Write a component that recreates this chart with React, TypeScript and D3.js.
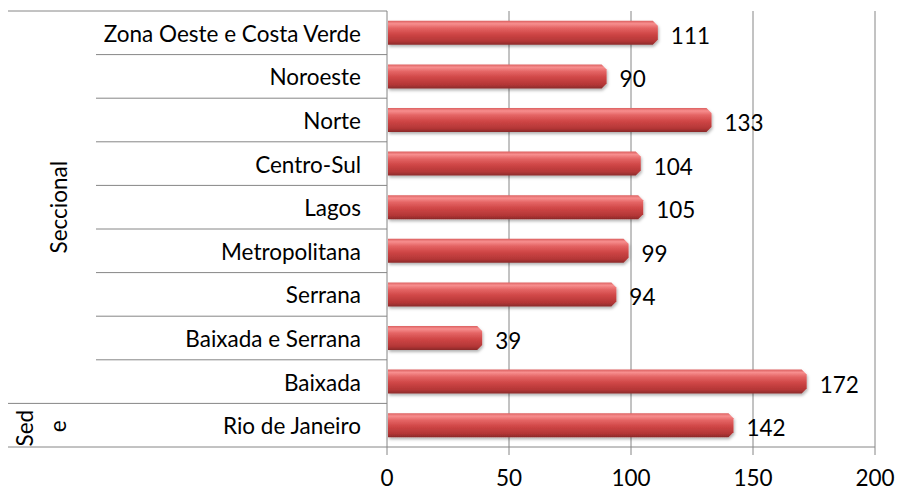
import React, { useEffect, useRef } from 'react';
import * as d3 from 'd3';

// Categories top to bottom, with their group (outer axis level)
const categories = [
  'Zona Oeste e Costa Verde',
  'Noroeste',
  'Norte',
  'Centro-Sul',
  'Lagos',
  'Metropolitana',
  'Serrana',
  'Baixada e Serrana',
  'Baixada',
  'Rio de Janeiro',
];
const groups = ['Seccional', 'Seccional', 'Seccional', 'Seccional', 'Seccional', 'Seccional', 'Seccional', 'Seccional', 'Seccional', 'Sede'];
const values = [111, 90, 133, 104, 105, 99, 94, 39, 172, 142];
const xTicks = [0, 50, 100, 150, 200];

const W = 898;
const H = 492;

export default function App() {
  const svgRef = useRef<SVGSVGElement | null>(null);

  useEffect(() => {
    const svg = d3.select(svgRef.current);
    svg.selectAll('*').remove();

    const left = 387;
    const right = 875;
    const top = 11;
    const bottom = 447;
    const font = 'Lato, "Open Sans", sans-serif';
    const fs = 22.5;
    const grid = '#868686';

    const x = d3.scaleLinear().domain([0, 200]).range([left, right]);
    const y = d3.scaleBand().domain(categories).range([top, bottom]).paddingInner(0.45).paddingOuter(0.225);
    const band = (bottom - top) / categories.length;
    const rowTop = (i: number) => top + i * band;

    // gradient for the bars
    const defs = svg.append('defs');
    const grad = defs.append('linearGradient').attr('id', 'barGrad').attr('x1', 0).attr('y1', 0).attr('x2', 0).attr('y2', 1);
    [
      [0, '#dc6060'],
      [0.12, '#f78e8e'],
      [0.3, '#e46464'],
      [0.55, '#cf4646'],
      [0.85, '#b33636'],
      [1, '#8a2a2a'],
    ].forEach(([o, c]) => grad.append('stop').attr('offset', o as number).attr('stop-color', c as string));
    const filter = defs.append('filter').attr('id', 'shadow').attr('x', '-5%').attr('y', '-30%').attr('width', '115%').attr('height', '180%');
    filter.append('feDropShadow').attr('dx', 1).attr('dy', 2).attr('stdDeviation', 1.5).attr('flood-color', '#000').attr('flood-opacity', 0.3);

    // vertical gridlines
    svg.append('g')
      .selectAll('line')
      .data(xTicks.filter(t => t > 0))
      .join('line')
      .attr('x1', d => x(d)).attr('x2', d => x(d))
      .attr('y1', top).attr('y2', bottom + 8)
      .attr('stroke', grid).attr('stroke-width', 1);

    // bottom axis line
    svg.append('line')
      .attr('x1', left).attr('x2', right).attr('y1', bottom).attr('y2', bottom)
      .attr('stroke', grid);

    // category separator lines (left multi-level axis)
    const seps = d3.range(categories.length + 1);
    svg.append('g')
      .selectAll('line')
      .data(seps)
      .join('line')
      .attr('x1', i => (i === 0 || i === categories.length || groups[i] !== groups[i - 1]) ? 8 : 96)
      .attr('x2', left)
      .attr('y1', i => rowTop(i)).attr('y2', i => rowTop(i))
      .attr('stroke', grid).attr('stroke-width', 1);

    // left axis line
    svg.append('line')
      .attr('x1', left).attr('x2', left).attr('y1', top).attr('y2', bottom + 8)
      .attr('stroke', grid);

    // bars with chamfered right end
    const bh = y.bandwidth();
    svg.append('g')
      .selectAll('path')
      .data(categories)
      .join('path')
      .attr('d', (c, i) => {
        const x0 = x(0) + 1;
        const x1 = x(values[i]);
        const y0 = y(c)!;
        const ch = 5;
        return `M${x0},${y0}L${x1 - ch},${y0}L${x1},${y0 + ch}L${x1},${y0 + bh - ch}L${x1 - ch},${y0 + bh}L${x0},${y0 + bh}Z`;
      })
      .attr('fill', 'url(#barGrad)')
      .attr('filter', 'url(#shadow)');

    // value labels
    svg.append('g')
      .selectAll('text')
      .data(categories)
      .join('text')
      .attr('x', (c, i) => x(values[i]) + 13)
      .attr('y', c => y(c)! + bh / 2 + 11)
      .attr('font-family', font).attr('font-size', fs).attr('fill', '#000')
      .text((c, i) => values[i]);

    // category labels
    svg.append('g')
      .selectAll('text')
      .data(categories)
      .join('text')
      .attr('x', 361)
      .attr('y', (c, i) => rowTop(i) + band / 2 + 9)
      .attr('text-anchor', 'end')
      .attr('font-family', font).attr('font-size', fs).attr('fill', '#000')
      .text(c => c);

    // group labels
    const secEnd = groups.lastIndexOf('Seccional') + 1;
    svg.append('text')
      .attr('transform', `translate(67,${(rowTop(0) + rowTop(secEnd)) / 2}) rotate(-90)`)
      .attr('text-anchor', 'middle')
      .attr('font-family', font).attr('font-size', fs)
      .text('Seccional');
    const sedeMid = (rowTop(secEnd) + rowTop(categories.length)) / 2 + 3;
    svg.append('text')
      .attr('transform', `translate(33,${sedeMid}) rotate(-90)`)
      .attr('text-anchor', 'middle')
      .attr('font-family', font).attr('font-size', fs)
      .text('Sed');
    svg.append('text')
      .attr('transform', `translate(66,${sedeMid - 2}) rotate(-90)`)
      .attr('text-anchor', 'middle')
      .attr('font-family', font).attr('font-size', fs)
      .text('e');

    // x tick labels
    svg.append('g')
      .selectAll('text')
      .data(xTicks)
      .join('text')
      .attr('x', d => x(d))
      .attr('y', 486)
      .attr('text-anchor', 'middle')
      .attr('font-family', font).attr('font-size', fs)
      .text(d => d);
  }, []);

  return (
    <svg ref={svgRef} width={W} height={H} style={{ position: 'absolute', left: 0, top: 0, background: '#fff' }} />
  );
}
